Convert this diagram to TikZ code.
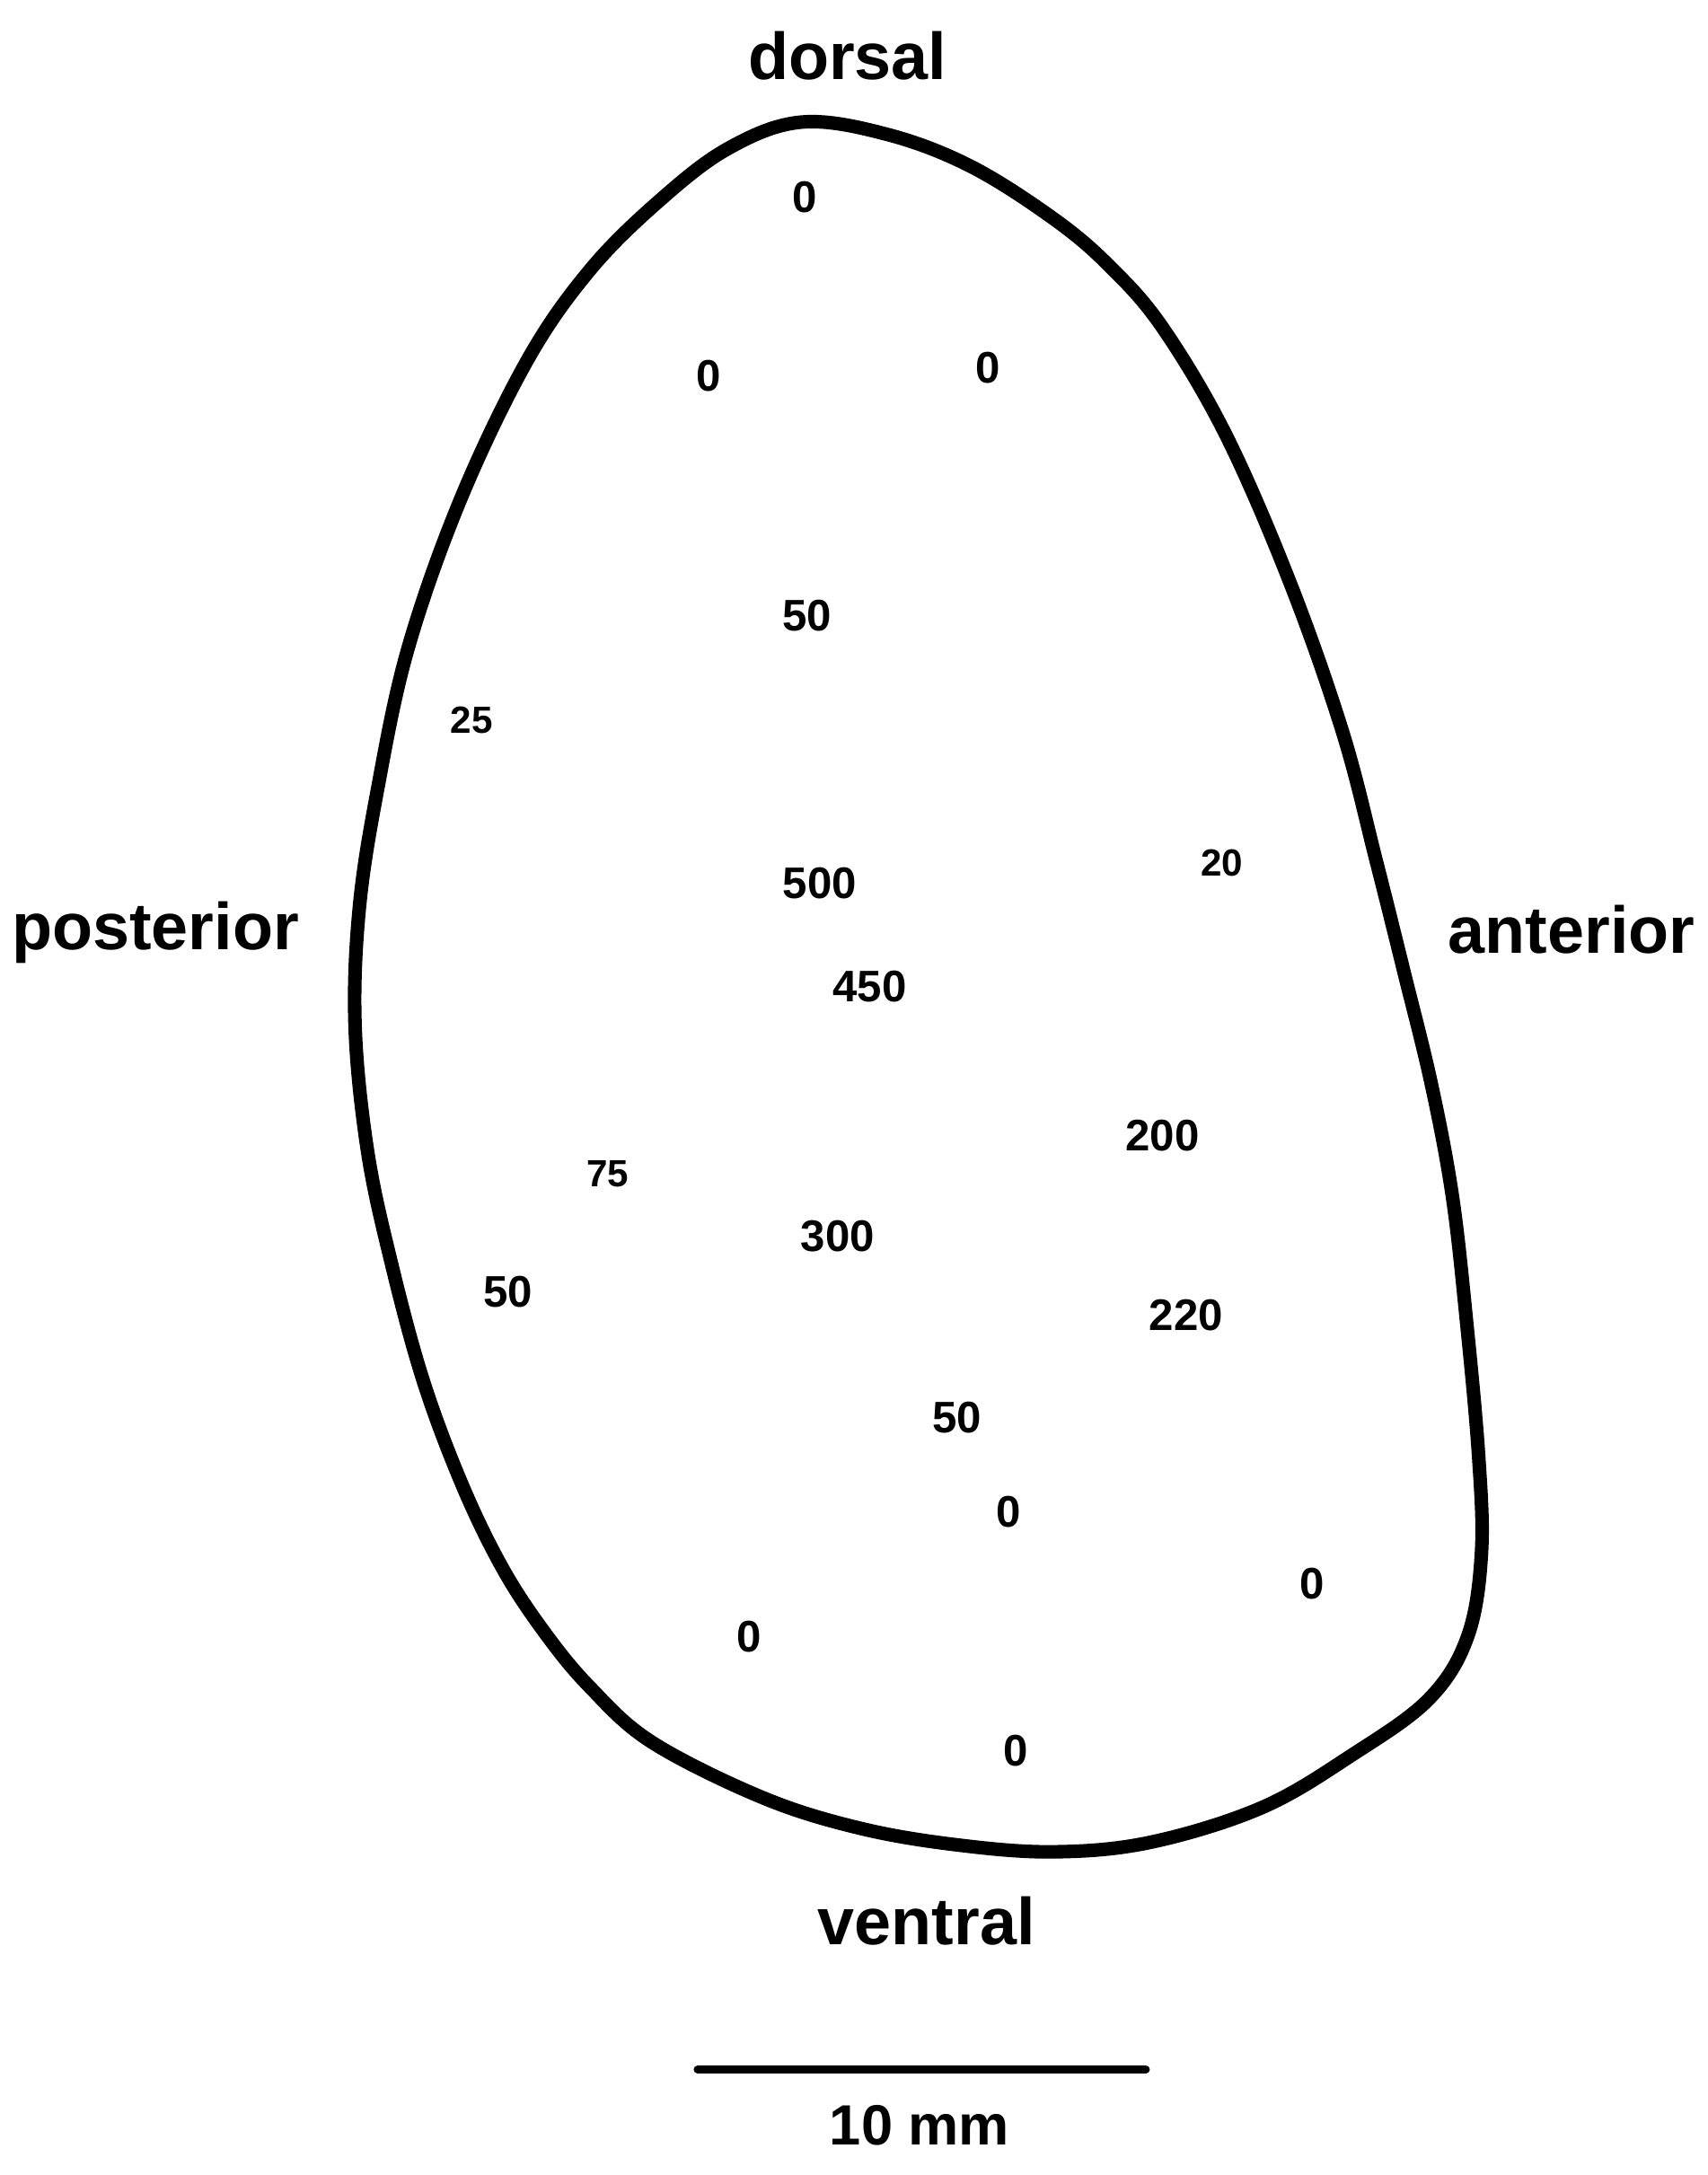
\documentclass[tikz,border=0pt]{standalone}
\usepackage{fontspec}
\setmainfont{Liberation Sans}
\usepackage{tikz}
\usetikzlibrary{positioning}

\begin{document}
\begin{tikzpicture}[
  x=0.01545cm, y=-0.01545cm,
  outline/.style={line width=4.3pt, line join=round},
  val/.style={font=\fontsize{14}{14}\selectfont\bfseries, inner sep=1pt},
  sval/.style={font=\fontsize{12}{12}\selectfont\bfseries, inner sep=1pt},
  side/.style={font=\fontsize{21}{21}\selectfont\bfseries, inner sep=1pt},
  bar/.style={line width=2.6pt, line cap=round}
]
\useasboundingbox (0,0) rectangle (1231,1568);

% Section outline
\draw[outline] plot[smooth cycle, tension=0.6] coordinates {
  (578,88) (640,97) (700,120) (760,158) (800,192) (838,236) (884,314)
  (930,420) (968,528) (992,620) (1012,700) (1032,782) (1047,862)
  (1057,950) (1066,1050) (1068,1120) (1058,1180) (1030,1225) (975,1265)
  (910,1303) (830,1328) (760,1335) (690,1330) (620,1318) (550,1296)
  (470,1256) (425,1216) (392,1176) (362,1130) (333,1070) (305,995)
  (282,910) (265,830) (256,740) (259,655) (272,570) (294,468) (332,360)
  (380,260) (425,195) (475,145) (525,107)};

% Orientation labels
\node[side] (dorsal)    at (611,40)   {dorsal};
\node[side] (posterior) at (112,672)  {posterior};
\node[side] (anterior)  at (1133,670) {anterior};
\node[side] (ventral)   at (668,1385) {ventral};

% Values
\node[val]  (v1)  at (580,142)  {0};
\node[val]  (v2)  at (511,271)  {0};
\node[val]  (v3)  at (712,265)  {0};
\node[val]  (v4)  at (582,444)  {50};
\node[sval] (v5)  at (340,519)  {25};
\node[val]  (v6)  at (591,637)  {500};
\node[sval] (v7)  at (881,622)  {20};
\node[val]  (v8)  at (627,711)  {450};
\node[val]  (v9)  at (838,819)  {200};
\node[sval] (v10) at (438,846)  {75};
\node[val]  (v11) at (604,891)  {300};
\node[val]  (v12) at (366,931)  {50};
\node[val]  (v13) at (855,948)  {220};
\node[val]  (v14) at (690,1022) {50};
\node[val]  (v15) at (727,1090) {0};
\node[val]  (v16) at (946,1142) {0};
\node[val]  (v17) at (540,1180) {0};
\node[val]  (v18) at (732,1262) {0};

% Scale bar
\coordinate (barL) at (503,1492);
\coordinate (barR) at (826,1492);
\draw[bar] (barL) -- (barR);
\node[side, font=\fontsize{18}{18}\selectfont\bfseries] (scale) at (663,1532) {10 mm};
\end{tikzpicture}
\end{document}
